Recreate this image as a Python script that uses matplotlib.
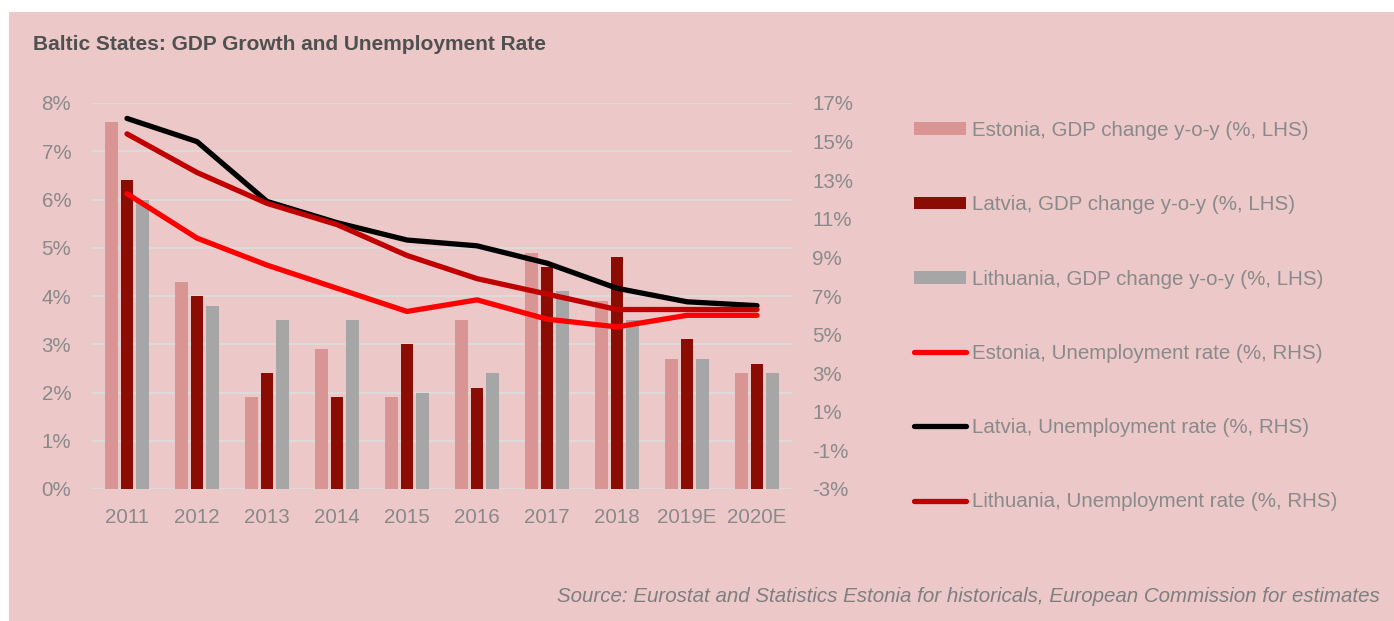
import matplotlib
matplotlib.use("Agg")
import matplotlib.pyplot as plt
import numpy as np
from matplotlib.patches import Patch, Rectangle
from matplotlib.lines import Line2D

plt.rcParams['font.family'] = ['Liberation Sans', 'DejaVu Sans']

years = ["2011", "2012", "2013", "2014", "2015", "2016", "2017", "2018", "2019E", "2020E"]
gdp_estonia = [7.6, 4.3, 1.9, 2.9, 1.9, 3.5, 4.9, 3.9, 2.7, 2.4]
gdp_latvia = [6.4, 4.0, 2.4, 1.9, 3.0, 2.1, 4.6, 4.8, 3.1, 2.6]
gdp_lithuania = [6.0, 3.8, 3.5, 3.5, 2.0, 2.4, 4.1, 3.5, 2.7, 2.4]
unemp_estonia = [12.3, 10.0, 8.6, 7.4, 6.2, 6.8, 5.8, 5.4, 6.0, 6.0]
unemp_latvia = [16.2, 15.0, 11.9, 10.8, 9.9, 9.6, 8.7, 7.4, 6.7, 6.5]
unemp_lithuania = [15.4, 13.4, 11.8, 10.7, 9.1, 7.9, 7.1, 6.3, 6.3, 6.3]

left_ticks = [0, 1, 2, 3, 4, 5, 6, 7, 8]
right_ticks = [-3, -1, 1, 3, 5, 7, 9, 11, 13, 15, 17]

BG = "#ECC8C8"
TXT = "#8A8A8A"
C_EST_BAR = "#D99594"
C_LAT_BAR = "#8B0C02"
C_LIT_BAR = "#A6A6A6"
C_EST_LINE = "#FF0000"
C_LAT_LINE = "#000000"
C_LIT_LINE = "#C00000"
FS = 14.8

W, H = 1394, 621
fig = plt.figure(figsize=(W / 100, H / 100), dpi=100)
fig.patch.set_facecolor("white")
fig.patches.append(Rectangle((9 / W, 0), 1 - 9 / W, 1 - 12 / H, transform=fig.transFigure,
                             facecolor=BG, edgecolor="none", zorder=-10))

ax = fig.add_axes([92 / W, 1 - 489 / H, 700 / W, 386 / H])
ax.set_facecolor("none")
ax2 = ax.twinx()

x = np.arange(len(years))
bw = 0.176
step = 0.223
ax.bar(x - step, gdp_estonia, bw, color=C_EST_BAR, zorder=2)
ax.bar(x, gdp_latvia, bw, color=C_LAT_BAR, zorder=2)
ax.bar(x + step, gdp_lithuania, bw, color=C_LIT_BAR, zorder=2)

lw = 3.8
ax2.plot(x, unemp_estonia, color=C_EST_LINE, lw=lw, solid_capstyle="round", solid_joinstyle="round")
ax2.plot(x, unemp_latvia, color=C_LAT_LINE, lw=lw, solid_capstyle="round", solid_joinstyle="round")
ax2.plot(x, unemp_lithuania, color=C_LIT_LINE, lw=lw, solid_capstyle="round", solid_joinstyle="round")

ax.set_xlim(-0.5, len(years) - 0.5)
ax.set_ylim(0, 8)
ax2.set_ylim(-3, 17)
ax.set_yticks(left_ticks)
ax.set_yticklabels([f"{t}%" for t in left_ticks])
ax2.set_yticks(right_ticks)
ax2.set_yticklabels([f"{t}%" for t in right_ticks])
ax.set_xticks(x)
ax.set_xticklabels(years)

ax.grid(axis="y", color="#DCDCDC", lw=1.3, zorder=0)
ax.set_axisbelow(True)
for a in (ax, ax2):
    for s in a.spines.values():
        s.set_visible(False)
    a.tick_params(length=0, colors=TXT, labelsize=FS)
ax.tick_params(axis="y", pad=15)
ax2.tick_params(axis="y", pad=14.5)
ax.tick_params(axis="x", pad=14)

fig.text(33 / W, 1 - 44 / H, "Baltic States: GDP Growth and Unemployment Rate",
         fontsize=15, color="#505050", va="center", ha="left", fontweight="bold")
fig.text(1380 / W, 1 - 597 / H,
         "Source: Eurostat and Statistics Estonia for historicals, European Commission for estimates",
         fontsize=FS, color="#7F7F7F", va="center", ha="right", style="italic")

handles = [
    Patch(facecolor=C_EST_BAR, edgecolor="none"),
    Patch(facecolor=C_LAT_BAR, edgecolor="none"),
    Patch(facecolor=C_LIT_BAR, edgecolor="none"),
    Line2D([], [], color=C_EST_LINE, lw=lw, solid_capstyle="round"),
    Line2D([], [], color=C_LAT_LINE, lw=lw, solid_capstyle="round"),
    Line2D([], [], color=C_LIT_LINE, lw=lw, solid_capstyle="round"),
]
labels = [
    "Estonia, GDP change y-o-y (%, LHS)",
    "Latvia, GDP change y-o-y (%, LHS)",
    "Lithuania, GDP change y-o-y (%, LHS)",
    "Estonia, Unemployment rate (%, RHS)",
    "Latvia, Unemployment rate (%, RHS)",
    "Lithuania, Unemployment rate (%, RHS)",
]
leg = fig.legend(handles, labels, loc="upper left", bbox_to_anchor=(914 / W, 1 - 121 / H),
                 frameon=False, fontsize=FS, labelcolor=TXT, handlelength=2.55,
                 handleheight=0.58, handletextpad=0.25, labelspacing=2.69, borderpad=0,
                 borderaxespad=0)

fig.savefig("out.png", dpi=100, facecolor=fig.get_facecolor())
